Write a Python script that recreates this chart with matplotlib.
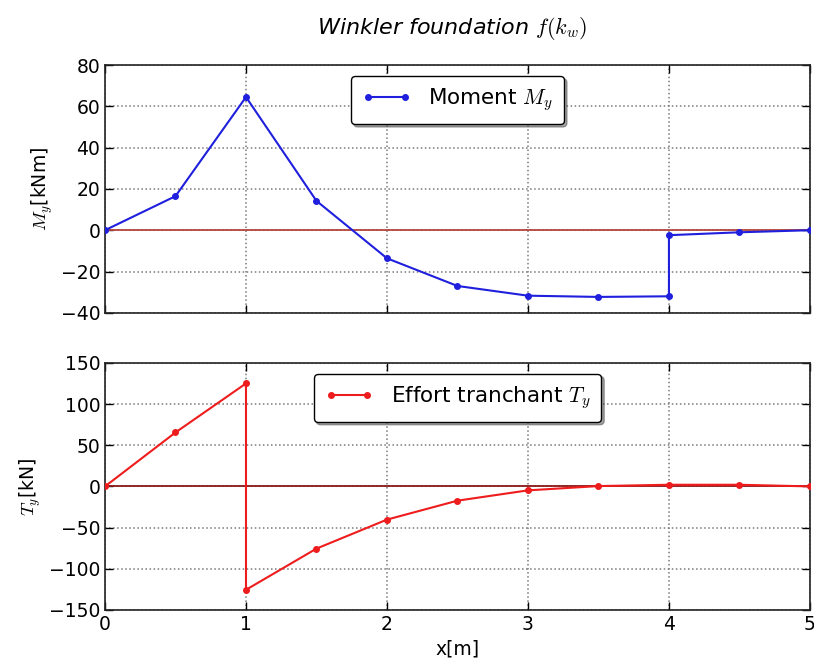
import matplotlib
matplotlib.use("Agg")
import matplotlib.pyplot as plt

plt.rcParams['mathtext.fontset'] = 'cm'

x_m = [0, 0.5, 1, 1.5, 2, 2.5, 3, 3.5, 4, 4, 4.5, 5]
moment = [0, 16.5, 64.5, 14.2, -13.6, -27.0, -31.7, -32.3, -32.0, -2.4, -1.0, 0]

x_t = [0, 0.5, 1, 1, 1.5, 2, 2.5, 3, 3.5, 4, 4.5, 5]
shear = [0, 65.5, 125, -125.5, -75.5, -40.3, -17.3, -4.8, 0.4, 2.0, 2.0, 0]

xticks = [0, 1, 2, 3, 4, 5]
yticks_m = [-40, -20, 0, 20, 40, 60, 80]
yticks_t = [-150, -100, -50, 0, 50, 100, 150]

fig = plt.figure(figsize=(8.14, 6.67), dpi=100)
ax1 = fig.add_axes([0.129, 0.531, 0.866, 0.3715])
ax2 = fig.add_axes([0.129, 0.0855, 0.866, 0.3705])

def style(ax):
    ax.grid(True, linestyle=':', color='#7a7a7a', linewidth=1.1)
    ax.tick_params(direction='in', top=True, right=True, labelsize=13.5, length=6, width=1)
    for s in ax.spines.values():
        s.set_linewidth(1.2)
        s.set_color('#222222')
    ax.set_xlim(0, 5)
    ax.set_xticks(xticks)

style(ax1)
ax1.axhline(0, color='#b5463c', linewidth=1.3, zorder=2)
ax1.plot(x_m, moment, color='#1f1fdd', marker='o', markersize=4, linewidth=1.5, label='Moment $M_y$', zorder=3)
ax1.set_ylim(-40, 80)
ax1.set_yticks(yticks_m)
ax1.set_xticklabels([])
ax1.set_ylabel('$M_y$[kNm]', fontsize=13.5)
leg1 = ax1.legend(loc='upper center', fontsize=15.5, shadow=True, fancybox=True, numpoints=2,
                  handlelength=2.3, borderpad=0.5, framealpha=1)
leg1.get_frame().set_edgecolor('black')
leg1.get_frame().set_linewidth(1.0)

style(ax2)
ax2.axhline(0, color='#8b1a1a', linewidth=1.3, zorder=2)
ax2.plot(x_t, shear, color='#ee1c1c', marker='o', markersize=4, linewidth=1.5, label='Effort tranchant $T_y$', zorder=3)
ax2.set_ylim(-150, 150)
ax2.set_yticks(yticks_t)
ax2.set_xlabel('x[m]', fontsize=13.5)
ax2.set_ylabel('$T_y$[kN]', fontsize=13.5)
leg2 = ax2.legend(loc='upper center', fontsize=15.5, shadow=True, fancybox=True, numpoints=2,
                  handlelength=2.3, borderpad=0.5, framealpha=1)
leg2.get_frame().set_edgecolor('black')
leg2.get_frame().set_linewidth(1.0)

fig.text(0.555, 0.957, 'Winkler foundation $f(k_w)$', ha='center', va='center', fontsize=16, fontstyle='italic')

fig.savefig('out.png', dpi=100, facecolor='white')
